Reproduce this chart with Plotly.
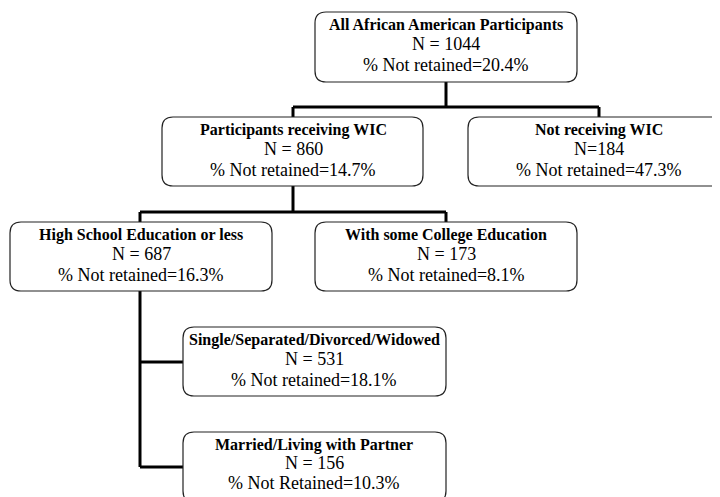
import plotly.graph_objects as go

# ---- data ----
titles = ["All African American Participants", "Participants receiving WIC", "Not receiving WIC",
          "High School Education or less", "With some College Education",
          "Single/Separated/Divorced/Widowed", "Married/Living with Partner"]
n_values = [1044, 860, 184, 687, 173, 531, 156]
n_fmt = ["N = {}", "N = {}", "N={}", "N = {}", "N = {}", "N = {}", "N = {}"]
pct_not_retained = [20.4, 14.7, 47.3, 16.3, 8.1, 18.1, 10.3]
pct_label = ["% Not retained", "% Not retained", "% Not retained", "% Not retained",
             "% Not retained", "% Not retained", "% Not Retained"]

# ---- layout (pixel coordinates of boxes: x0, x1, y0, y1) ----
boxes = [
    (315, 577, 12, 82),
    (162, 423, 117, 186),
    (468, 730, 117, 186),
    (10, 272, 222, 291),
    (315, 577, 222, 291),
    (183, 446, 327, 396),
    (183, 446, 432, 502),
]
text_cx = [446, 293, 599, 141, 446, 314, 314]
line_offsets = [(13, 32, 53)] * 6 + [(13, 31, 51)]
W, H = 720, 497
OFF = 8  # page body margin compensation
R = 11

def rrect(x0, x1, y0, y1, r=R):
    return (f"M {x0+r},{y0} L {x1-r},{y0} Q {x1},{y0} {x1},{y0+r} "
            f"L {x1},{y1-r} Q {x1},{y1} {x1-r},{y1} L {x0+r},{y1} "
            f"Q {x0},{y1} {x0},{y1-r} L {x0},{y0+r} Q {x0},{y0} {x0+r},{y0} Z")

shapes = []
for (x0, x1, y0, y1) in boxes:
    shapes.append(dict(type="path", path=rrect(x0, x1, y0, y1), xref="x", yref="y",
                       line=dict(color="#222222", width=1.2), fillcolor="white", layer="above"))

# connectors (elbow lines)
conn = [
    [(446, 82), (446, 107)],
    [(293, 107), (599, 107)],
    [(293, 107), (293, 117)],
    [(599, 107), (599, 117)],
    [(293, 186), (293, 212)],
    [(140, 212), (446, 212)],
    [(140, 212), (140, 222)],
    [(446, 212), (446, 222)],
    [(140, 291), (140, 467)],
    [(140, 362), (183, 362)],
    [(140, 467), (183, 467)],
]
for (a, b) in conn:
    shapes.append(dict(type="line", x0=a[0], y0=a[1], x1=b[0], y1=b[1], xref="x", yref="y",
                       line=dict(color="black", width=3), layer="below"))

annotations = []
FONT = "Liberation Serif"
for i, (x0, x1, y0, y1) in enumerate(boxes):
    cx = text_cx[i]
    o1, o2, o3 = line_offsets[i]
    lines = [
        (f"<b>{titles[i]}</b>", 16, o1),
        (n_fmt[i].format(n_values[i]), 18, o2),
        (f"{pct_label[i]}={pct_not_retained[i]}%", 18, o3),
    ]
    for txt, size, off in lines:
        annotations.append(dict(x=cx, y=y0 + off, xref="x", yref="y", text=txt, showarrow=False,
                                xanchor="center", yanchor="middle",
                                font=dict(family=FONT, size=size, color="black")))

fig = go.Figure()
fig.update_layout(
    width=W, height=H,
    margin=dict(l=0, r=0, t=0, b=0),
    paper_bgcolor="white", plot_bgcolor="white",
    xaxis=dict(range=[OFF, W + OFF], visible=False, fixedrange=True),
    yaxis=dict(range=[H + OFF, OFF], visible=False, fixedrange=True),
    shapes=shapes, annotations=annotations, showlegend=False,
)
fig.write_html("out.html")
